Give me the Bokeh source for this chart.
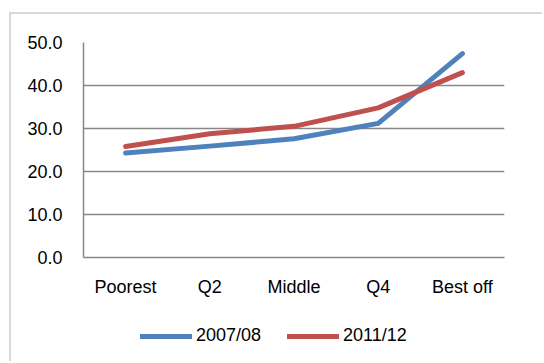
from bokeh.plotting import figure
from bokeh.layouts import column
from bokeh.models import FactorRange, Range1d, FixedTicker, NumeralTickFormatter, Legend, LegendItem
from bokeh.embed import file_html
from bokeh.resources import INLINE

categories = ["Poorest", "Q2", "Middle", "Q4", "Best off"]
series_2007 = [24.3, 25.9, 27.6, 31.2, 47.4]
series_2011 = [25.8, 28.8, 30.5, 34.8, 43.0]
series_names = ["2007/08", "2011/12"]
y_ticks = [0, 10, 20, 30, 40, 50]

FONT = "Liberation Sans"
BLUE = "#4F81BD"
RED = "#C0504D"
GRID = "#878787"
W = 531

p = figure(x_range=FactorRange(*categories, range_padding=0), y_range=Range1d(0, 50),
           width=W, height=296, output_backend="svg", toolbar_location=None,
           min_border_left=72, min_border_right=38, min_border_top=28, min_border_bottom=53)
p.outline_line_color = None
p.background_fill_color = "white"
p.border_fill_color = "white"

p.line(categories, series_2007, line_color=BLUE, line_width=5, line_cap="round", line_join="round")
p.line(categories, series_2011, line_color=RED, line_width=5, line_cap="round", line_join="round")

p.xgrid.grid_line_color = None
p.ygrid.ticker = FixedTicker(ticks=y_ticks)
p.ygrid.grid_line_color = GRID
p.ygrid.grid_line_width = 1.5

p.yaxis.ticker = FixedTicker(ticks=y_ticks)
p.yaxis.formatter = NumeralTickFormatter(format="0.0")
for ax in (p.xaxis[0], p.yaxis[0]):
    ax.axis_line_color = GRID
    ax.axis_line_width = 1.5
    ax.major_tick_line_color = None
    ax.minor_tick_line_color = None
    ax.major_label_text_font = FONT
    ax.major_label_text_font_size = "18px"
    ax.major_label_text_color = "#000000"
p.yaxis.major_label_standoff = 15
p.xaxis.major_label_standoff = 13

# legend strip (its swatch lines lie outside the strip's own ranges, only the legend shows)
lg = figure(width=W, height=51, x_range=(0, 1), y_range=(0, 1), output_backend="svg",
            toolbar_location=None, x_axis_location=None, y_axis_location=None, min_border=0)
lg.outline_line_color = None
lg.grid.grid_line_color = None
d1 = lg.line(x=[5, 6], y=[5, 6], line_color=BLUE, line_width=5, line_cap="round")
d2 = lg.line(x=[5, 6], y=[5, 6], line_color=RED, line_width=5, line_cap="round")
legend = Legend(items=[LegendItem(label=series_names[0], renderers=[d1]),
                       LegendItem(label=series_names[1], renderers=[d2])],
                orientation="horizontal", location=(57, 15),
                label_text_font=FONT, label_text_font_size="18px", label_text_color="#000000",
                glyph_width=52, glyph_height=20, label_standoff=4, spacing=26,
                border_line_color=None, background_fill_alpha=0, padding=0, margin=0)
lg.add_layout(legend, "center")

layout = column(p, lg, spacing=0,
                styles={"margin-left": "9px", "margin-top": "12px",
                        "border-left": "2px solid #d9d9d9", "border-top": "2px solid #d9d9d9"})
open("out.html", "w").write(file_html(layout, INLINE))
